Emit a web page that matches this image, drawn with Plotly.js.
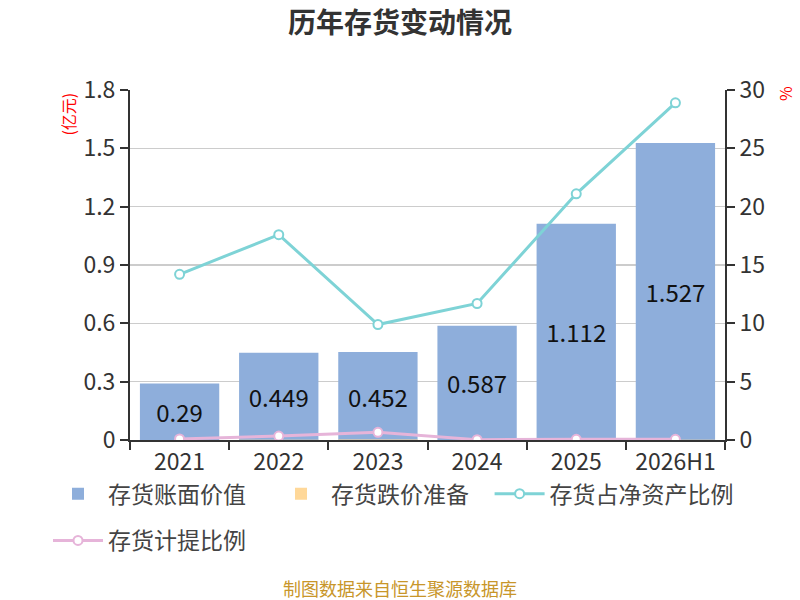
<!DOCTYPE html>
<html>
<head>
<meta charset="utf-8">
<script src="https://cdn.plot.ly/plotly-3.0.1.min.js"></script>
<style>
  html, body { margin: 0; padding: 0; background: #fff; }
  #chart { width: 800px; height: 600px; }
</style>
</head>
<body>
<div id="chart"></div>
<script>
// Years on the x axis
const years = ['2021', '2022', '2023', '2024', '2025', '2026H1'];

// 存货账面价值 (亿元)
const bookValue = [0.29, 0.449, 0.452, 0.587, 1.112, 1.527];
// 存货跌价准备 (亿元), too small to see
const impairment = [0.0003, 0.0015, 0.003, 0, 0.0005, 0.001];
// 存货占净资产比例 (%)
const shareOfNetAssets = [14.2, 17.6, 9.9, 11.7, 21.1, 28.9];
// 存货计提比例 (%)
const provisionRatio = [0.09, 0.34, 0.66, 0.03, 0.06, 0.06];

const FONT = 'Noto Sans CJK SC, Noto Sans, sans-serif';

const traces = [
  {
    type: 'bar',
    name: '存货账面价值',
    x: years,
    y: bookValue,
    marker: { color: '#8eaedb' },
    text: bookValue.map(String),
    textposition: 'inside',
    insidetextanchor: 'middle',
    textfont: { size: 24, color: '#111' },
    hoverinfo: 'none',
  },
  {
    type: 'bar',
    name: '存货跌价准备',
    x: years,
    y: impairment,
    marker: { color: '#ffd899' },
    hoverinfo: 'none',
  },
  {
    type: 'scatter',
    mode: 'lines+markers',
    name: '存货占净资产比例',
    legend: 'legend3',
    x: years,
    y: shareOfNetAssets,
    yaxis: 'y2',
    line: { color: '#7ed3d6', width: 3 },
    marker: { size: 9, color: '#fff', line: { color: '#7ed3d6', width: 2 } },
    hoverinfo: 'none',
  },
  {
    type: 'scatter',
    mode: 'lines+markers',
    name: '存货计提比例',
    legend: 'legend2',
    x: years,
    y: provisionRatio,
    yaxis: 'y2',
    line: { color: '#e6b4d9', width: 3 },
    marker: { size: 9, color: '#fff', line: { color: '#e6b4d9', width: 2 } },
    hoverinfo: 'none',
  },
];

const LEGEND_BASE = {
  orientation: 'h',
  xref: 'container', yref: 'container',
  xanchor: 'left', yanchor: 'top',
  font: { size: 23, color: '#444' },
  itemwidth: 50,
  entrywidth: 158, entrywidthmode: 'pixels',
  traceorder: 'normal',
};

const AXIS_BASE = {
  showline: true, linecolor: '#333', linewidth: 2,
  ticks: 'outside', ticklen: 8, tickcolor: '#333', tickwidth: 2,
  zeroline: false,
  tickfont: { size: 23, color: '#333' },
};

const layout = {
  width: 800,
  height: 600,
  paper_bgcolor: '#fff',
  plot_bgcolor: '#fff',
  font: { family: FONT, size: 20, color: '#333' },
  margin: { t: 90, r: 75, b: 160, l: 130 },
  title: {
    text: '<b>历年存货变动情况</b>',
    font: { size: 28, color: '#333' },
    x: 0.5, xanchor: 'center', y: 0.962, yanchor: 'middle',
  },
  barmode: 'overlay',
  bargap: 0.2,
  showlegend: true,
  legend: { ...LEGEND_BASE, x: 0.06, y: 0.213 },
  legend3: { ...LEGEND_BASE, entrywidth: 200, x: 0.612, y: 0.213 },
  legend2: { ...LEGEND_BASE, x: 0.06, y: 0.135 },
  xaxis: {
    ...AXIS_BASE,
    type: 'category',
    tickson: 'boundaries',
    showgrid: false,
  },
  yaxis: {
    ...AXIS_BASE,
    range: [0, 1.8], dtick: 0.3, tick0: 0,
    gridcolor: '#cccccc', gridwidth: 1.5,
  },
  yaxis2: {
    ...AXIS_BASE,
    overlaying: 'y', side: 'right',
    range: [0, 30], dtick: 5, tick0: 0,
    showgrid: false,
  },
  annotations: [
    {
      text: '(亿元)', textangle: -90, showarrow: false,
      xref: 'paper', yref: 'paper', x: -0.104, y: 0.93,
      xanchor: 'center', yanchor: 'middle',
      font: { size: 16, color: '#ff0000' },
    },
    {
      text: '%', textangle: -90, showarrow: false,
      xref: 'paper', yref: 'paper', x: 1.1, y: 0.99,
      xanchor: 'center', yanchor: 'middle',
      font: { size: 16, color: '#ff0000' },
    },
    {
      text: '制图数据来自恒生聚源数据库', showarrow: false,
      xref: 'paper', yref: 'paper', x: 0.454, y: -0.423,
      xanchor: 'center', yanchor: 'middle',
      font: { size: 18, color: '#c8962a' },
    },
  ],
};

Plotly.newPlot('chart', traces, layout, { displayModeBar: false, staticPlot: true });
</script>
</body>
</html>
